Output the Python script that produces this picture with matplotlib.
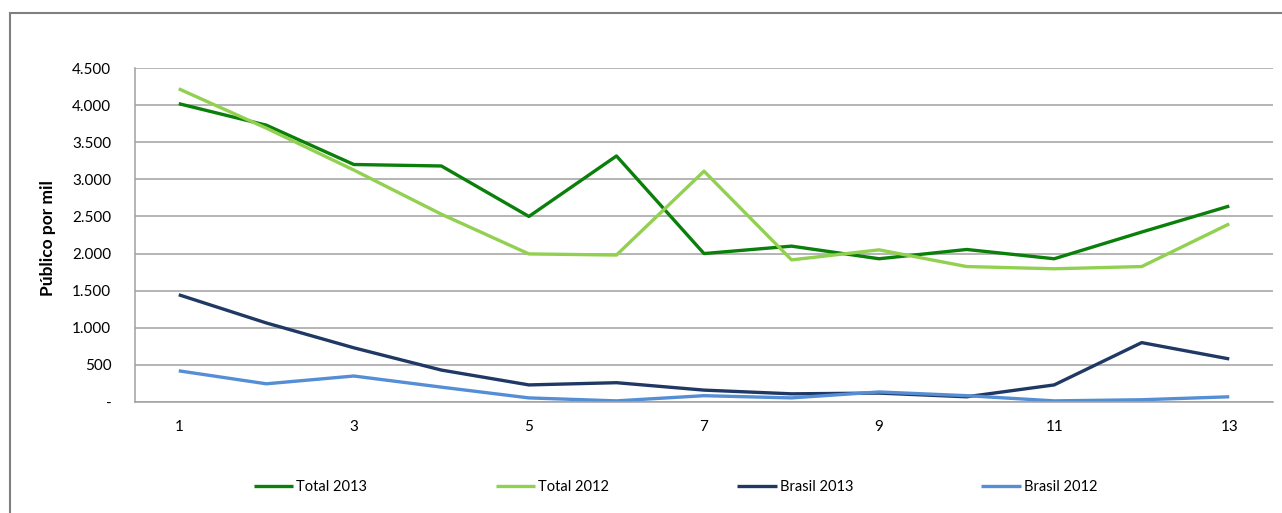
import matplotlib.pyplot as plt
import matplotlib.patches as patches
from matplotlib.ticker import FuncFormatter

#### Data
semanas = list(range(1, 14))
total_2013 = [4020, 3730, 3200, 3180, 2500, 3315, 2000, 2100, 1930, 2055, 1930, 2290, 2640]
total_2012 = [4220, 3690, 3125, 2530, 1995, 1980, 3110, 1915, 2050, 1825, 1795, 1825, 2400]
brasil_2013 = [1445, 1065, 730, 430, 230, 260, 160, 110, 120, 70, 230, 800, 580]
brasil_2012 = [420, 245, 350, 200, 55, 15, 85, 55, 135, 85, 15, 30, 70]
labels = ['Total 2013', 'Total 2012', 'Brasil 2013', 'Brasil 2012']
cores = ['#0a7f0a', '#92d050', '#1f3864', '#558ed5']

plt.rcParams['font.family'] = ['Lato', 'DejaVu Sans']

fig = plt.figure(figsize=(12.82, 5.13), dpi=100)
ax = fig.add_axes([0.1053, 0.2164, 0.8877, 0.651])

# moldura do grafico
fig.patches.append(patches.Rectangle((10/1282, -0.1), 1.1, 1.1 - 13/513,
                                     transform=fig.transFigure, fill=False,
                                     edgecolor='#7f7f7f', linewidth=1.5))

series = [total_2013, total_2012, brasil_2013, brasil_2012]
for y, lab, c in zip(series, labels, cores):
    ax.plot(semanas, y, color=c, linewidth=2.4, label=lab, solid_capstyle='butt')

ax.set_xlim(0.5, 13.5)
ax.set_ylim(0, 4500)
ax.set_xticks(semanas[::2])
ax.set_yticks(range(0, 4501, 500))

def fmt(v, pos):
    if v == 0:
        return '-'
    return '{:,.0f}'.format(v).replace(',', '.')
ax.yaxis.set_major_formatter(FuncFormatter(fmt))

ax.grid(axis='y', color='#a0a0a0', linewidth=1.1)
ax.set_axisbelow(True)
for s in ['top', 'right']:
    ax.spines[s].set_visible(False)
for s in ['left', 'bottom']:
    ax.spines[s].set_color('#a0a0a0')
    ax.spines[s].set_linewidth(1.1)
ax.tick_params(axis='both', length=0, labelsize=11)
ax.tick_params(axis='y', pad=17)
ax.tick_params(axis='x', pad=13)

ax.set_ylabel('Público por mil', fontsize=12.5, fontweight='bold')
ax.yaxis.set_label_coords(-0.069, 0.49)

fig.legend(loc='center', bbox_to_anchor=(0.527, 0.05), ncol=4, frameon=False,
           fontsize=10.5, handlelength=2.7, handletextpad=0.2, columnspacing=8.8)

plt.savefig('out.png', dpi=100)
